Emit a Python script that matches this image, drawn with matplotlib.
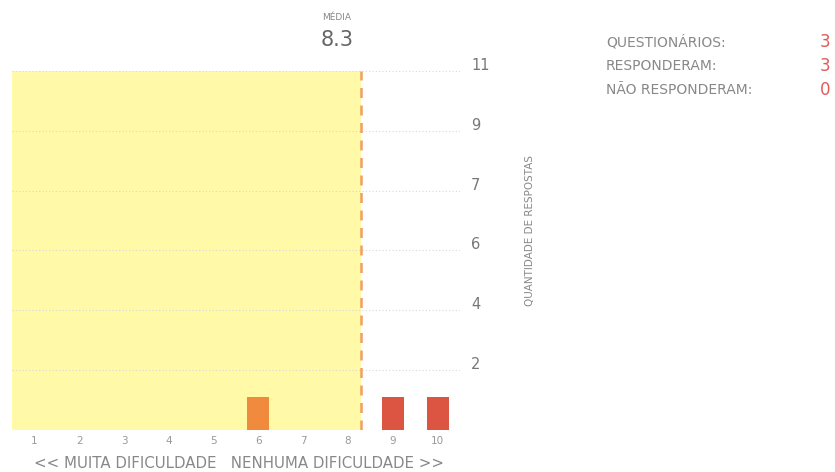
import matplotlib.pyplot as plt
import matplotlib.transforms as mtransforms

scores = [1, 2, 3, 4, 5, 6, 7, 8, 9, 10]
counts = [0, 0, 0, 0, 0, 1, 0, 0, 1, 1]
bar_colors = ['#f08a3c'] * 8 + ['#dc5542'] * 2
mean_score = 8.3
y_max = 11
y_ticks = [y_max * k / 6 for k in range(1, 7)]
y_tick_labels = ['2', '4', '6', '7', '9', '11']
summary_labels = ['QUESTIONÁRIOS:', 'RESPONDERAM:', 'NÃO RESPONDERAM:']
summary_values = [3, 3, 0]

fig = plt.figure(figsize=(8.35, 4.72), dpi=100)
ax = fig.add_axes([12 / 835, 42 / 472, 448 / 835, 359 / 472])

# shaded area up to the mean
ax.axvspan(0.5, mean_score, color='#fff9a8', zorder=0, lw=0)
for t in y_ticks:
    ax.axhline(t, color='#d8d8d8', lw=0.8, ls=(0, (1, 2)), zorder=1)

ax.bar(scores, counts, width=0.49, color=bar_colors, zorder=2)
ax.axvline(mean_score, color='#f0a060', lw=1.8, ls=(0, (4, 3)), zorder=3)

ax.set_xlim(0.5, 10.5)
ax.set_ylim(0, y_max)
ax.set_xticks(scores)
ax.set_xticklabels([str(s) for s in scores], fontsize=7.5, color='#999999')
ax.yaxis.tick_right()
ax.set_yticks(y_ticks)
ax.set_yticklabels(y_tick_labels, fontsize=10.5, color='#777777')
ax.tick_params(length=0, axis='x', pad=4)
ax.tick_params(length=0, axis='y', pad=8)
shift = mtransforms.ScaledTranslation(0, 7 / 100, fig.dpi_scale_trans)
for lab in ax.get_yticklabels():
    lab.set_transform(lab.get_transform() + shift)
for s in ax.spines.values():
    s.set_visible(False)

fig.text(239 / 835, 1 - 463 / 472, '<< MUITA DIFICULDADE   NENHUMA DIFICULDADE >>',
         ha='center', va='center', fontsize=10.8, color='#888888')
fig.text(530 / 835, 1 - 230 / 472, 'QUANTIDADE DE RESPOSTAS', rotation=90,
         ha='center', va='center', fontsize=7.5, color='#888888')

fig.text(337 / 835, 1 - 18 / 472, 'MÉDIA',
         ha='center', va='center', fontsize=6.5, color='#888888')
fig.text(337 / 835, 1 - 40 / 472, f'{mean_score}',
         ha='center', va='center', fontsize=15, color='#666666')

for i, (lab, val) in enumerate(zip(summary_labels, summary_values)):
    y = 1 - (42 + i * 24) / 472
    fig.text(606 / 835, y, lab, ha='left', va='center', fontsize=10, color='#888888')
    fig.text(825 / 835, y, str(val), ha='center', va='center', fontsize=12, color='#e05a5a')

fig.savefig('out.png', dpi=100)
